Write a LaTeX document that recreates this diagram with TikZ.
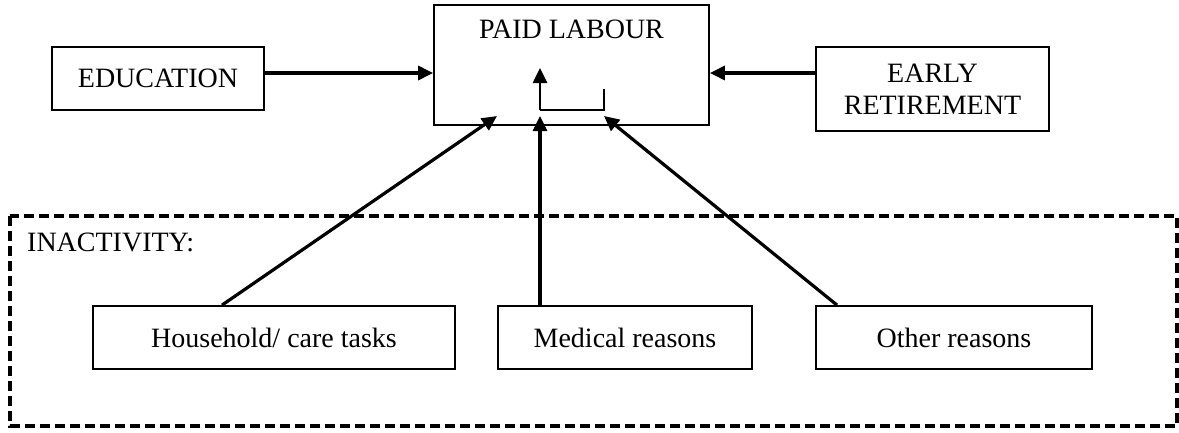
\documentclass[tikz,border=0pt]{standalone}
\usepackage{fontspec}
\setmainfont{Liberation Serif}
\usetikzlibrary{arrows.meta}
\begin{document}
\begin{tikzpicture}[x=1pt,y=-1pt,
  box/.style={draw, line width=1.8pt, inner sep=0pt, font=\fontsize{28}{32}\selectfont, align=center},
  lbl/.style={inner sep=0pt, font=\fontsize{28}{32}\selectfont},
  conn/.style={line width=3.2pt, -{Triangle[length=15pt,width=14pt]}},
  thinline/.style={line width=1.8pt},
  dashbox/.style={draw, line width=3.2pt, dash pattern=on 10pt off 5pt}
]
\useasboundingbox (0,0) rectangle (1179,432);
% dashed group
\draw[dashbox] (10,216) rectangle (1177,426);
\node[lbl, anchor=west] (inact) at (27,242) {INACTIVITY:};
% boxes
\node[box, minimum width=275pt, minimum height=120pt] (paid) at (571.5,65) {};
\node[lbl] (paidtext) at (571.5,29) {PAID LABOUR};
\node[box, minimum width=212pt, minimum height=63pt] (edu) at (158,78.5) {EDUCATION};
\node[box, minimum width=233pt, minimum height=84pt] (early) at (932.5,89) {EARLY\\RETIREMENT};
\node[box, minimum width=362pt, minimum height=63pt] (house) at (274,337.5) {Household/ care tasks};
\node[box, minimum width=254pt, minimum height=63pt] (med) at (625,337.5) {Medical reasons};
\node[box, minimum width=276pt, minimum height=63pt] (other) at (954,337.5) {Other reasons};
% target points inside paid labour box
\coordinate (t1) at (497,116);
\coordinate (t2) at (540,116);
\coordinate (t3) at (604,116);
\coordinate (b1) at (540,110);
\coordinate (b2) at (540,68);
\coordinate (b3) at (604,110);
\coordinate (b4) at (604,89);
% connectors
\draw[conn] ([yshift=5.5pt]edu.east) -- ([yshift=5.5pt]edu.east -| paid.west);
\draw[conn] ([yshift=16pt]early.west) -- ([yshift=16pt]early.west -| paid.east);
\draw[conn] ([xshift=-52pt]house.north) -- (t1);
\draw[conn] ([xshift=-85pt]med.north) -- (t2);
\draw[conn] ([xshift=-117pt]other.north) -- (t3);
\draw[conn, line width=2.6pt] (b1) -- (b2);
\draw[thinline] (b1) -- (b3) -- (b4);
\end{tikzpicture}
\end{document}
